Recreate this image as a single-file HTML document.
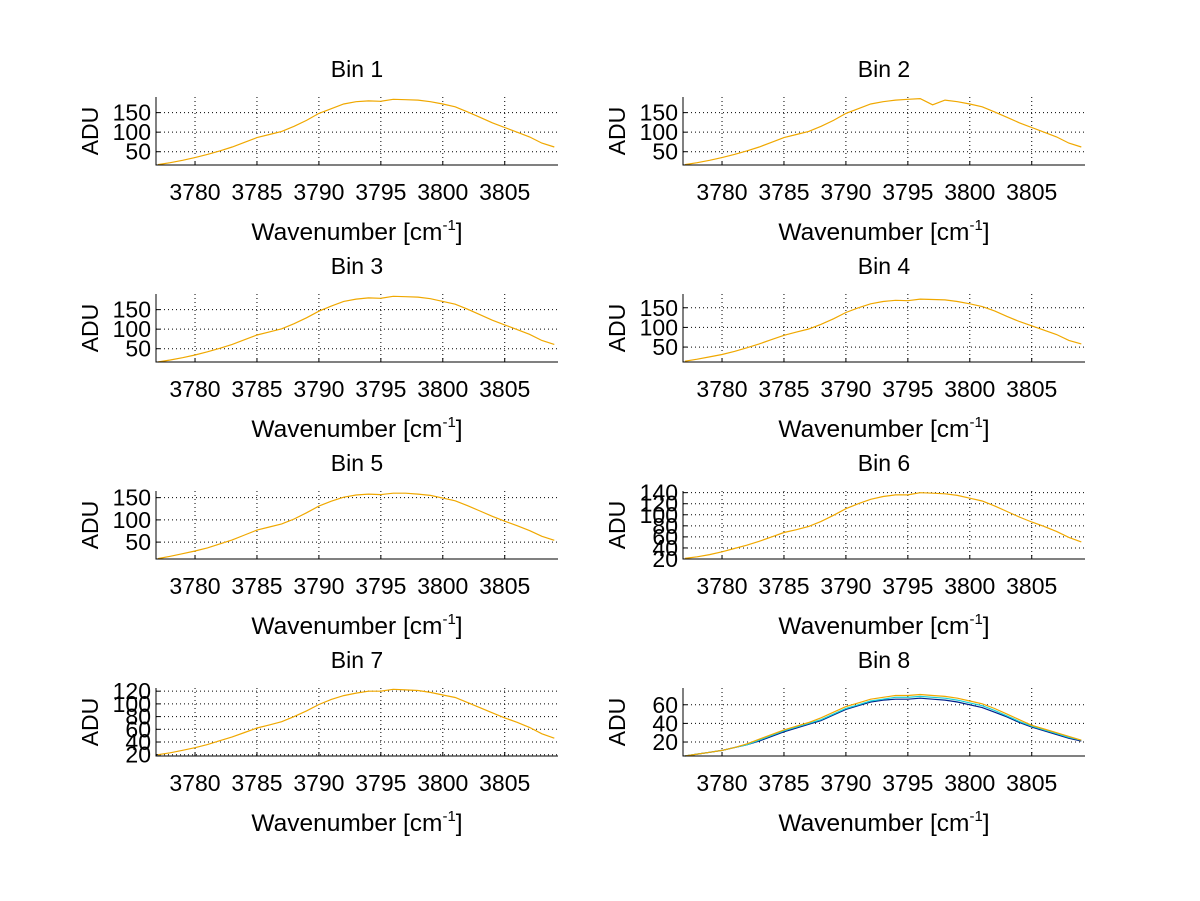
<!DOCTYPE html>
<html><head><meta charset="utf-8"><style>
html,body{margin:0;padding:0;background:#fff;}
svg{display:block;font-family:"Liberation Sans",sans-serif;}
</style></head><body>
<svg id="fig" width="1200" height="901" viewBox="0 0 1200 901" xmlns="http://www.w3.org/2000/svg"></svg>
<script>
const xs = [3777,3778,3779,3780,3781,3782,3783,3784,3785,3786,3787,3788,3789,3790,3791,3792,3793,3794,3795,3796,3797,3798,3799,3800,3801,3802,3803,3804,3805,3806,3807,3808,3809];
const xTicks = [3780,3785,3790,3795,3800,3805];
const bin1 = [17,22,28,35,43,52,62,74,86,94,102,115,130,148,160,172,178,180,179,184,183,182,178,172,165,152,138,124,112,100,88,72,62];
const bin2 = [17,22,28,35,43,52,62,74,86,94,102,115,130,148,160,172,178,182,184,186,170,182,178,172,165,152,138,124,112,100,88,72,62];
const bin3 = [16,21,27,34,42,51,61,73,85,93,101,114,129,146,159,171,177,180,179,184,183,182,178,171,164,151,137,123,111,99,87,71,61];
const bin4 = [14,19,25,31,39,48,58,69,80,88,96,108,122,138,150,160,166,169,168,172,171,170,166,160,153,142,128,115,104,93,82,67,58];
const bin5 = [13,18,24,30,37,46,55,66,77,84,91,102,116,131,142,151,156,158,157,160,160,158,155,149,143,132,120,108,97,87,76,63,54];
const bin6 = [21,24,28,33,39,45,52,60,68,73,79,88,99,111,120,128,133,136,136,140,139,138,135,130,125,116,106,96,87,79,70,59,51];
const bin7 = [20,23,27,31,36,42,48,55,62,67,72,80,89,99,107,113,117,120,120,123,122,121,118,114,110,102,94,86,78,71,63,53,46];
const bin8a = [5,7,9,11,14,18,23,28,33,37,41,46,52,58,62,66,68,70,70,71,70,69,67,64,61,56,50,44,38,34,30,26,22];
const bin8b = [5,7,9,11,14,17,22,27,32,36,40,44,50,56,60,64,66,68,68,69,68,67,65,62,59,54,48,42,37,33,29,25,22];
const bin8c = [5,7,9,11,14,17,21,26,31,35,39,43,49,55,59,63,65,66,66,67,66,65,63,60,57,52,47,41,36,32,28,24,21];
const yTicks = [[50,100,150],[50,100,150],[50,100,150],[50,100,150],[50,100,150],[20,40,60,80,100,120,140],[20,40,60,80,100,120],[20,40,60]];
const yRanges = [[16,190],[16,190],[16,190],[12,185],[12,165],[20,143],[18,125],[5,78]];
const binSeries = [[bin1],[bin2],[bin3],[bin4],[bin5],[bin6],[bin7],[bin8c,bin8b,bin8a]];
const binTitles = ["Bin 1","Bin 2","Bin 3","Bin 4","Bin 5","Bin 6","Bin 7","Bin 8"];

const NS="http://www.w3.org/2000/svg";
const svg=document.getElementById('fig');
function mk(tag,attrs,parent){const e=document.createElementNS(NS,tag);for(const k in attrs)e.setAttribute(k,attrs[k]);(parent||svg).appendChild(e);return e;}
const XMIN=3776.85, XMAX=3809.3;
const colsX=[[156,558],[683,1085]];
const rowsY=[[97,165],[294,362],[491,559],[688,756]];
const seriesColors8=["#00208a","#19d0d8","#f0a800"];
for(let b=0;b<8;b++){
  const [x0,x1]=colsX[b%2];const [y0,y1]=rowsY[Math.floor(b/2)];
  const [ymin,ymax]=yRanges[b];
  const sx=v=>x0+(v-XMIN)/(XMAX-XMIN)*(x1-x0);
  const sy=v=>y1-(v-ymin)/(ymax-ymin)*(y1-y0);
  const g=mk('g',{});
  
  
  xTicks.forEach(t=>{const l=mk('line',{x1:sx(t),x2:sx(t),y1:y0,y2:y1,stroke:'#000','stroke-width':1,'stroke-dasharray':'1,3'},g);
    
    const tx=mk('text',{x:sx(t),y:y1+35,'font-size':23,'text-anchor':'middle'},g);tx.textContent=t;
    
    mk('line',{x1:sx(t),x2:sx(t),y1:y1,y2:y1-4,stroke:'#000'},g);});
  yTicks[b].forEach(t=>{const l=mk('line',{x1:x0,x2:x1,y1:sy(t),y2:sy(t),stroke:'#000','stroke-width':1,'stroke-dasharray':'1,3'},g);
    
    const tx=mk('text',{x:x0-5,y:sy(t)+8,'font-size':23,'text-anchor':'end'},g);tx.textContent=t;
    
    mk('line',{x1:x0,x2:x0+4,y1:sy(t),y2:sy(t),stroke:'#000'},g);});
  binSeries[b].forEach((s,i)=>{
    const d=s.map((v,j)=>(j?'L':'M')+sx(xs[j]).toFixed(1)+','+sy(v).toFixed(1)).join('');
    const col=b===7?seriesColors8[i]:'#f0a800';
    const p=mk('path',{d:d,fill:'none',stroke:col,'stroke-width':1.2},g);
    
  });
  const ax=mk('path',{d:`M${x0},${y0}L${x0},${y1}L${x1},${y1}`,fill:'none',stroke:'#000','stroke-width':1},g);
  
  const cx=(x0+x1)/2;
  const ti=mk('text',{x:cx,y:y0-20,'font-size':23,'text-anchor':'middle'},g);ti.textContent=binTitles[b];
  
  const yl=mk('text',{x:0,y:0,'font-size':23,'text-anchor':'middle',transform:`translate(${x0-58},${(y0+y1)/2}) rotate(-90)`},g);yl.textContent='ADU';
  
  const xl=mk('text',{x:cx,y:y1+75,'font-size':24.5,'text-anchor':'middle'},g);
  
  xl.appendChild(document.createTextNode('Wavenumber [cm'));
  const sup=mk('tspan',{dy:-10,'font-size':15},xl);sup.textContent='-1';
  const rest=mk('tspan',{dy:10},xl);rest.textContent=']';
}
</script>
</body></html>
